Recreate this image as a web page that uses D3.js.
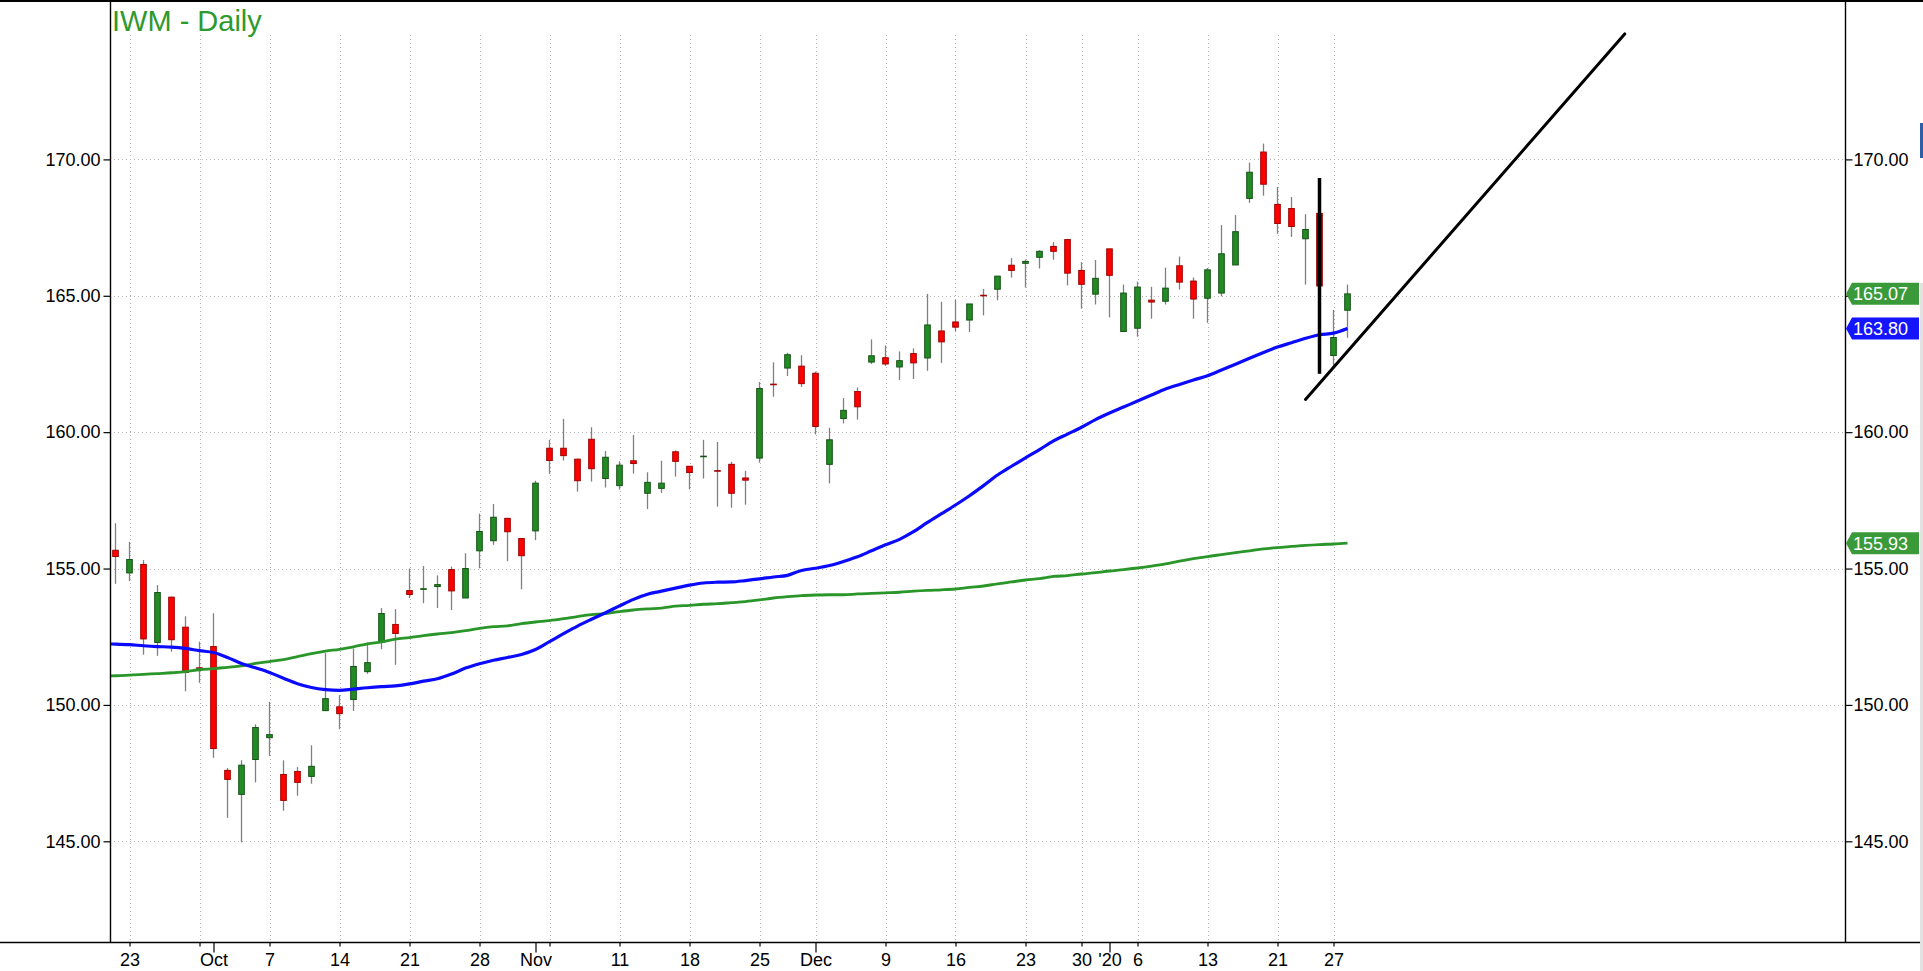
<!DOCTYPE html>
<html>
<head>
<meta charset="utf-8">
<script src="https://cdn.jsdelivr.net/npm/d3@7"></script>
<style>
  body { margin: 0; background: #fff; }
  svg { display: block; font-family: "Liberation Sans", Arial, sans-serif; }
</style>
</head>
<body>
<div id="chart"></div>
<script>
// IWM daily candles, sep 20 2019 -> jan 28 2020 (trading days only)
const dates = [
  "2019-09-20","2019-09-23","2019-09-24","2019-09-25","2019-09-26","2019-09-27","2019-09-30",
  "2019-10-01","2019-10-02","2019-10-03","2019-10-04","2019-10-07","2019-10-08","2019-10-09","2019-10-10","2019-10-11",
  "2019-10-14","2019-10-15","2019-10-16","2019-10-17","2019-10-18","2019-10-21","2019-10-22","2019-10-23","2019-10-24",
  "2019-10-25","2019-10-28","2019-10-29","2019-10-30","2019-10-31",
  "2019-11-01","2019-11-04","2019-11-05","2019-11-06","2019-11-07","2019-11-08","2019-11-11","2019-11-12","2019-11-13",
  "2019-11-14","2019-11-15","2019-11-18","2019-11-19","2019-11-20","2019-11-21","2019-11-22","2019-11-25","2019-11-26",
  "2019-11-27","2019-11-29",
  "2019-12-02","2019-12-03","2019-12-04","2019-12-05","2019-12-06","2019-12-09","2019-12-10","2019-12-11","2019-12-12",
  "2019-12-13","2019-12-16","2019-12-17","2019-12-18","2019-12-19","2019-12-20","2019-12-23","2019-12-24","2019-12-26",
  "2019-12-27","2019-12-30","2019-12-31",
  "2020-01-02","2020-01-03","2020-01-06","2020-01-07","2020-01-08","2020-01-09","2020-01-10","2020-01-13","2020-01-14",
  "2020-01-15","2020-01-16","2020-01-17","2020-01-21","2020-01-22","2020-01-23","2020-01-24","2020-01-27","2020-01-28"
];

const open = [
  155.67,154.84,155.15,152.29,153.95,152.85,151.36,
  152.14,147.60,146.72,148.00,148.80,147.45,147.56,147.38,149.79,149.93,150.20,151.22,152.29,152.95,154.19,154.24,154.34,154.96,153.92,155.65,156.02,156.84,156.10,
  156.38,159.41,159.41,159.01,159.74,158.30,158.04,158.95,157.76,157.94,159.28,158.75,159.10,158.59,158.82,158.32,159.05,161.76,162.35,162.42,
  162.16,158.82,160.50,161.49,162.57,162.73,162.39,162.88,162.72,163.71,164.04,164.11,165.02,165.24,166.12,166.19,166.41,166.81,167.06,165.93,165.06,
  166.72,163.69,163.81,164.84,164.80,166.10,165.54,164.91,165.10,166.13,168.57,170.27,168.35,168.20,167.09,168.02,162.81,164.47
];
const high = [
  156.66,155.98,155.31,154.39,153.97,153.25,152.32,
  153.36,147.69,147.97,149.29,150.11,147.97,147.72,148.52,151.90,150.36,152.07,152.29,153.55,153.51,155.00,155.09,154.75,155.07,155.56,157.01,157.37,156.86,156.12,
  158.22,159.72,160.49,159.03,160.18,159.31,158.93,159.90,158.53,158.95,159.33,158.75,159.72,159.64,158.91,158.58,161.84,162.56,162.91,162.82,
  162.22,160.16,161.25,161.64,163.40,163.18,162.96,163.07,165.07,164.78,164.85,164.70,165.25,165.72,166.38,166.33,166.67,166.97,167.06,166.23,166.31,
  166.72,165.41,165.52,165.33,166.03,166.44,165.67,166.02,167.59,167.96,169.88,170.58,168.99,168.62,167.99,169.32,164.48,165.41
];
const low = [
  154.44,154.54,151.84,151.80,151.95,150.50,150.81,
  148.06,145.86,144.96,147.16,148.13,146.12,146.67,147.11,149.79,149.11,149.78,151.14,152.04,151.47,153.92,153.73,153.55,153.48,153.92,155.01,155.87,155.27,154.24,
  156.04,158.47,158.96,157.82,158.19,157.97,157.89,158.48,157.18,157.77,158.37,157.90,158.30,157.27,157.23,157.34,158.88,161.30,162.06,161.66,
  159.92,158.12,160.32,160.46,162.50,162.43,161.91,161.95,162.25,162.54,163.69,163.67,164.28,164.83,165.67,165.30,166.00,166.32,165.38,164.53,164.68,
  164.21,163.69,163.50,164.16,164.68,165.23,164.16,164.01,164.98,166.13,168.41,168.67,167.27,167.16,165.41,162.14,162.39,163.46
];
const close = [
  155.44,155.33,152.42,154.12,152.39,151.19,151.33,
  148.40,147.27,147.79,149.17,148.91,146.50,147.16,147.75,150.23,149.68,151.41,151.55,153.35,152.62,154.05,154.26,154.41,154.18,155.00,156.36,156.88,156.35,155.47,
  158.13,158.96,159.14,158.22,158.66,159.08,158.79,158.85,158.16,158.13,158.93,158.52,159.12,158.57,157.76,158.24,161.60,161.74,162.84,161.78,
  160.21,159.72,160.80,160.93,162.80,162.50,162.62,162.54,163.93,163.31,163.85,164.70,165.01,165.72,165.93,166.26,166.63,166.63,165.83,165.42,165.64,
  165.75,165.10,165.32,164.77,165.28,165.50,164.88,165.95,166.54,167.35,169.53,169.09,167.65,167.54,167.43,165.36,163.47,165.07
];

// moving averages: first value is sep 19 (one day before the first candle)
const ma50 = [
  152.24,
  152.23,152.21,152.17,152.14,152.12,152.07,151.99,151.92,151.74,151.52,151.36,151.19,150.98,150.78,150.64,150.56,150.53,150.58,150.63,150.67,
  150.70,150.77,150.87,150.96,151.13,151.35,151.51,151.64,151.74,151.85,152.03,152.32,152.61,152.89,153.14,153.38,153.63,153.87,154.06,154.17,
  154.28,154.39,154.47,154.50,154.51,154.56,154.62,154.69,154.75,154.93,155.01,155.11,155.26,155.43,155.65,155.87,156.07,156.35,156.69,157.01,
  157.33,157.67,158.04,158.43,158.75,159.06,159.36,159.68,159.93,160.18,160.46,160.70,160.92,161.14,161.36,161.58,161.75,161.91,162.07,162.28,
  162.49,162.71,162.92,163.12,163.28,163.44,163.57,163.63,163.80
];
const ma200 = [
  151.05,
  151.07,151.09,151.12,151.15,151.18,151.22,151.29,151.33,151.38,151.43,151.52,151.59,151.66,151.77,151.88,151.97,152.04,152.13,152.24,152.31,
  152.41,152.47,152.54,152.60,152.65,152.72,152.81,152.87,152.90,152.98,153.04,153.09,153.16,153.24,153.31,153.35,153.42,153.48,153.52,153.55,
  153.62,153.65,153.69,153.71,153.75,153.79,153.85,153.92,153.97,154.01,154.03,154.04,154.04,154.07,154.09,154.11,154.13,154.17,154.20,154.22,
  154.25,154.31,154.36,154.44,154.51,154.58,154.63,154.71,154.74,154.80,154.85,154.91,154.96,155.02,155.09,155.17,155.27,155.36,155.44,155.51,
  155.58,155.65,155.72,155.77,155.81,155.85,155.88,155.90,155.93
];

const yTicks = [145, 150, 155, 160, 165, 170];
const weekStarts = ["2019-09-23","2019-09-30","2019-10-07","2019-10-14","2019-10-21","2019-10-28","2019-11-04",
  "2019-11-11","2019-11-18","2019-11-25","2019-12-02","2019-12-09","2019-12-16","2019-12-23","2019-12-30",
  "2020-01-06","2020-01-13","2020-01-21","2020-01-27"];
const monthStarts = ["2019-10-01","2019-11-01","2019-12-02","2020-01-02"];
const labelDates = ["2019-09-23","2019-10-01","2019-10-07","2019-10-14","2019-10-21","2019-10-28","2019-11-01",
  "2019-11-11","2019-11-18","2019-11-25","2019-12-02","2019-12-09","2019-12-16","2019-12-23","2019-12-30",
  "2020-01-02","2020-01-06","2020-01-13","2020-01-21","2020-01-27"];
const labelTexts = ["23","Oct","7","14","21","28","Nov","11","18","25","Dec","9","16","23","30","'20","6","13","21","27"];

// hand drawn marks on the chart
const highlightDate = "2020-01-24";
const markLine = {date: "2020-01-24", from: 169.32, to: 162.14};
const trendLine = {fromDay: 85, fromPrice: 161.2, toDay: 107.8, toPrice: 174.6};

const width = 1923;
const height = 971;
const plot = {left: 110, right: 1845, top: 0, bottom: 942};

const svg = d3.select("#chart")
    .append("svg")
    .attr("width", width)
    .attr("height", height);

const dayIndex = d => dates.indexOf(d);

const xScale = d3.scaleLinear()
    .domain([0, dates.length - 1])
    .range([115.5, 115.5 + 14 * (dates.length - 1)]);

const yScale = d3.scaleLinear()
    .domain([145, 170])
    .range([841.3, 159.4]);

//grid
const grid = svg.append("g").attr("class", "grid")
    .attr("stroke", "#b5b5b5")
    .attr("stroke-dasharray", "1,3");

grid.selectAll(".h")
    .data(yTicks)
    .join("line")
        .attr("class", "h")
        .attr("x1", plot.left)
        .attr("x2", plot.right)
        .attr("y1", d => Math.round(yScale(d)) + 0.5)
        .attr("y2", d => Math.round(yScale(d)) + 0.5);

grid.selectAll(".v")
    .data(weekStarts)
    .join("line")
        .attr("class", "v")
        .attr("x1", d => Math.round(xScale(dayIndex(d))) + 0.5)
        .attr("x2", d => Math.round(xScale(dayIndex(d))) + 0.5)
        .attr("y1", 35)
        .attr("y2", plot.bottom);

svg.append("clipPath")
    .attr("id", "plot-clip")
    .append("rect")
        .attr("x", plot.left + 1)
        .attr("y", plot.top)
        .attr("width", plot.right - plot.left - 1)
        .attr("height", plot.bottom - plot.top);

const inner = svg.append("g").attr("clip-path", "url(#plot-clip)");

//candles
const candles = dates.map((d, i) => ({date: d, i, o: open[i], h: high[i], l: low[i], c: close[i]}));

inner.append("g")
    .selectAll("line")
    .data(candles)
    .join("line")
        .attr("x1", d => xScale(d.i))
        .attr("x2", d => xScale(d.i))
        .attr("y1", d => yScale(d.h))
        .attr("y2", d => yScale(d.l))
        .attr("stroke", "#808080")
        .attr("stroke-width", 1.3);

inner.append("g")
    .selectAll("rect")
    .data(candles)
    .join("rect")
        .attr("x", d => xScale(d.i) - 2.8)
        .attr("width", 5.6)
        .attr("y", d => yScale(Math.max(d.o, d.c)))
        .attr("height", d => Math.max(0.6, Math.abs(yScale(d.o) - yScale(d.c))))
        .attr("fill", d => d.date === highlightDate ? "#8b0000" : (d.c >= d.o ? "#238b23" : "#ff0000"))
        .attr("stroke", d => d.c >= d.o ? "#145214" : "#9e0000")
        .attr("stroke-width", 1);

//moving averages
const maLine = d3.line()
    .x((d, i) => xScale(i - 1))
    .y(d => yScale(d))
    .curve(d3.curveMonotoneX);

inner.append("path")
    .attr("d", maLine(ma200))
    .attr("fill", "none")
    .attr("stroke", "#2a962a")
    .attr("stroke-width", 2.8);

inner.append("path")
    .attr("d", maLine(ma50))
    .attr("fill", "none")
    .attr("stroke", "#0a0aff")
    .attr("stroke-width", 3.2);

//annotation lines
inner.append("line")
    .attr("x1", xScale(dayIndex(markLine.date)))
    .attr("x2", xScale(dayIndex(markLine.date)))
    .attr("y1", yScale(markLine.from))
    .attr("y2", yScale(markLine.to))
    .attr("stroke", "#000")
    .attr("stroke-width", 3.5);

inner.append("line")
    .attr("x1", xScale(trendLine.fromDay))
    .attr("y1", yScale(trendLine.fromPrice))
    .attr("x2", xScale(trendLine.toDay))
    .attr("y2", yScale(trendLine.toPrice))
    .attr("stroke", "#000")
    .attr("stroke-width", 3)
    .attr("stroke-linecap", "round");

//frame lines
svg.append("rect")
    .attr("x", 0).attr("y", 0)
    .attr("width", width).attr("height", 2)
    .attr("fill", "#000");

svg.append("line")
    .attr("x1", 0).attr("x2", width)
    .attr("y1", plot.bottom + 0.5).attr("y2", plot.bottom + 0.5)
    .attr("stroke", "#000").attr("stroke-width", 1.4);

[plot.left, plot.right].forEach(x => {
    svg.append("line")
        .attr("x1", x + 0.5).attr("x2", x + 0.5)
        .attr("y1", 0).attr("y2", plot.bottom)
        .attr("stroke", "#000").attr("stroke-width", 1.4);
});

//axes
const styleAxis = g => {
    g.select(".domain").remove();
    g.selectAll("text")
        .attr("font-size", 18)
        .attr("font-family", "'Liberation Sans', Arial, sans-serif")
        .attr("fill", "#000");
    g.selectAll("line").attr("stroke", "#000").attr("stroke-width", 1.2);
};

const leftAxis = d3.axisLeft(yScale)
    .tickValues(yTicks)
    .tickFormat(d3.format(".2f"))
    .tickSize(7)
    .tickPadding(3)
    .tickSizeOuter(0);

svg.append("g")
    .attr("transform", `translate(${plot.left + 0.5}, 0)`)
    .call(leftAxis)
    .call(styleAxis);

const rightAxis = d3.axisRight(yScale)
    .tickValues(yTicks)
    .tickFormat(d3.format(".2f"))
    .tickSize(7)
    .tickPadding(1)
    .tickSizeOuter(0);

svg.append("g")
    .attr("transform", `translate(${plot.right + 0.5}, 0)`)
    .call(rightAxis)
    .call(styleAxis);

const labelMap = new Map(labelDates.map((d, k) => [dayIndex(d), labelTexts[k]]));
const monthIdx = new Set(monthStarts.map(dayIndex));
const allTicks = Array.from(new Set([...weekStarts, ...monthStarts].map(dayIndex))).sort((a, b) => a - b);

const bottomAxis = d3.axisBottom(xScale)
    .tickValues(allTicks)
    .tickFormat(i => labelMap.get(i) || "")
    .tickSize(4)
    .tickSizeOuter(0);

svg.append("g")
    .attr("transform", `translate(0, ${plot.bottom + 0.5})`)
    .call(bottomAxis)
    .call(styleAxis)
    .call(g => g.selectAll(".tick line").attr("y2", i => monthIdx.has(i) ? 10 : 4))
    .call(g => g.selectAll(".tick text").attr("y", 11));

//title
svg.append("text")
    .text("IWM - Daily")
    .attr("x", 112)
    .attr("y", 31)
    .attr("fill", "#2e9a2e")
    .style("font-size", "29px");

//last value tags on the right axis
const tags = [
    {value: close[close.length - 1], color: "#3a9a3a"},
    {value: ma50[ma50.length - 1], color: "#1414ff"},
    {value: ma200[ma200.length - 1], color: "#3a9a3a"}
];

const tagGroup = svg.append("g")
    .selectAll("g")
    .data(tags)
    .join("g")
        .attr("transform", d => `translate(${plot.right + 1}, ${yScale(d.value)})`);

tagGroup.append("path")
    .attr("d", "M0,0 L6,-11 L73,-11 L73,11 L6,11 Z")
    .attr("fill", d => d.color);

tagGroup.append("text")
    .text(d => d3.format(".2f")(d.value))
    .attr("x", 7)
    .attr("dy", "0.36em")
    .attr("fill", "#fff")
    .style("font-size", "18px");

//edge of a side panel that was caught in the screenshot
svg.append("rect")
    .attr("x", 1920).attr("y", 123).attr("width", 3).attr("height", 35)
    .attr("fill", "#2d5fa8");
svg.append("rect")
    .attr("x", 1920).attr("y", 283).attr("width", 3).attr("height", height - 283)
    .attr("fill", "#e2e2e2");
</script>
</body>
</html>
